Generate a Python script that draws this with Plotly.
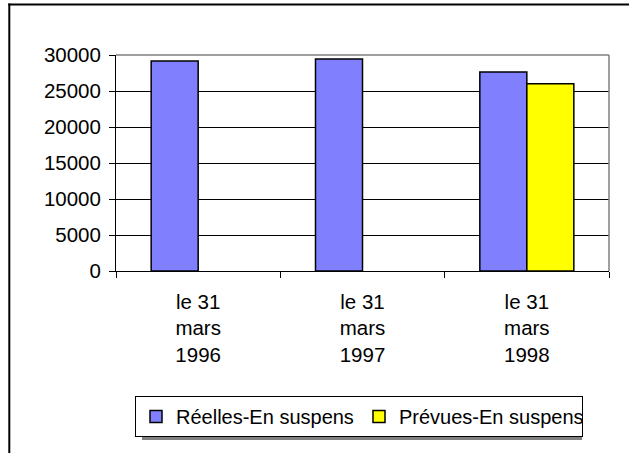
import plotly.graph_objects as go

categories = ["le 31<br>mars<br>1996", "le 31<br>mars<br>1997", "le 31<br>mars<br>1998"]
reelles = [29150, 29450, 27650]
prevues = [None, None, 26000]
series_names = ["Réelles-En suspens", "Prévues-En suspens"]
y_ticks = [0, 5000, 10000, 15000, 20000, 25000, 30000]
y_tick_labels = ["0", "5000", "10000", "15000", "20000", "25000", "30000"]

W, H = 629, 453
L, R, T, B = 116, 20, 55, 182
pw, ph = W - L - R, H - T - B

def px_x(x):
    return (x - L) / pw

def px_y(y):
    return (H - B - y) / ph

FONT = "Liberation Sans, Arial, sans-serif"
FS = 20.5

fig = go.Figure()
fig.add_trace(go.Bar(x=categories, y=reelles, name=series_names[0],
                     marker=dict(color="#8080FF", line=dict(color="black", width=1.5))))
fig.add_trace(go.Bar(x=categories, y=prevues, name=series_names[1],
                     marker=dict(color="#FFFF00", line=dict(color="black", width=1.5))))

shapes = [
    # outer frame (left and top edges)
    dict(type="line", xref="paper", yref="paper", x0=px_x(9.3), x1=px_x(9.3),
         y0=px_y(H + 20), y1=px_y(3.5), line=dict(color="black", width=2), layer="above"),
    dict(type="line", xref="paper", yref="paper", x0=px_x(8.3), x1=px_x(W + 20),
         y0=px_y(4.5), y1=px_y(4.5), line=dict(color="black", width=2), layer="above"),
    # plot area border top and right (gray)
    dict(type="line", xref="paper", yref="paper", x0=0, x1=1, y0=1, y1=1,
         line=dict(color="#808080", width=1.5), layer="above"),
    dict(type="line", xref="paper", yref="paper", x0=1, x1=1, y0=0, y1=1,
         line=dict(color="#808080", width=1.5), layer="above"),
    # legend shadow
    dict(type="rect", xref="paper", yref="paper", x0=px_x(142), x1=px_x(582),
         y0=px_y(440), y1=px_y(401), fillcolor="#808080", line=dict(width=0), layer="above"),
]

fig.update_layout(
    width=W, height=H,
    margin=dict(l=L, r=R, t=T, b=B),
    paper_bgcolor="white", plot_bgcolor="white",
    font=dict(family=FONT, size=FS, color="black"),
    barmode="group", bargap=0.428, bargroupgap=0,
    showlegend=True,
    legend=dict(orientation="h", x=px_x(359), xanchor="center", y=px_y(416.5), yanchor="middle",
                bordercolor="black", borderwidth=1, bgcolor="white",
                font=dict(family=FONT, size=20, color="black"), itemwidth=30,
                entrywidth=178, traceorder="normal"),
    shapes=shapes,
    xaxis=dict(type="category", tickson="boundaries", ticks="outside", ticklen=6,
               tickcolor="black", showline=True, linecolor="black", linewidth=1,
               showgrid=False, ticklabelstandoff=12,
               tickfont=dict(family=FONT, size=FS, color="black")),
    yaxis=dict(range=[0, 30000], tickmode="array", tickvals=y_ticks, ticktext=y_tick_labels,
               ticks="outside", ticklen=6, ticklabelstandoff=4,
               tickcolor="black", showline=True, linecolor="black", linewidth=1,
               showgrid=True, gridcolor="black", gridwidth=1, zeroline=False,
               tickfont=dict(family=FONT, size=FS, color="black")),
)

fig.write_html("out.html", config={"displayModeBar": False},
               post_script="document.body.style.margin='0';document.body.style.padding='0';")
